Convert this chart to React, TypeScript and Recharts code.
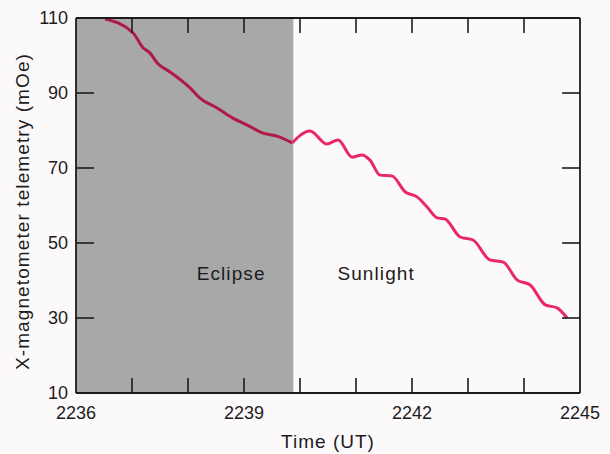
import React from 'react';
import { ComposedChart, Line, XAxis, YAxis, ReferenceArea, ReferenceDot, Label } from 'recharts';

const eclipseX = [2236.52, 2237.02, 2237.2, 2237.32, 2237.45, 2237.68, 2238.04, 2238.21, 2238.52, 2238.8, 2239.05, 2239.34, 2239.59, 2239.86];
const eclipseY = [109.7, 106.0, 102.0, 100.7, 98.0, 95.6, 91.3, 88.7, 86.0, 83.3, 81.5, 79.3, 78.5, 76.7];

const sunX = [2239.86, 2240.18, 2240.48, 2240.68, 2240.93, 2241.11, 2241.25, 2241.43, 2241.64, 2241.88, 2242.09, 2242.27, 2242.45, 2242.59, 2242.86, 2243.09, 2243.39, 2243.63, 2243.88, 2244.11, 2244.38, 2244.59, 2244.77];
const sunY = [76.7, 79.9, 76.4, 77.5, 72.9, 73.5, 72.1, 68.1, 67.9, 63.6, 62.3, 59.6, 56.7, 56.4, 51.6, 50.8, 45.5, 44.9, 40.1, 38.8, 33.5, 32.7, 30.0];

const xTicks = [2236, 2237, 2238, 2239, 2240, 2241, 2242, 2243, 2244, 2245];
const xLabeled = [2236, 2239, 2242, 2245];
const yTicks = [10, 30, 50, 70, 90, 110];
const eclipseEnd = 2239.88;

const annotations = [
  { x: 2238.77, y: 42, text: 'Eclipse' },
  { x: 2241.36, y: 42, text: 'Sunlight' },
];

const eclipseData = eclipseX.map((x, i) => ({ x, v: eclipseY[i] }));
const sunData = sunX.map((x, i) => ({ x, v: sunY[i] }));

const FONT = '"Liberation Sans", Arial, Helvetica, sans-serif';
const INK = '#1c1c1c';

const BottomTick = (props: any) => {
  const { x, y, payload } = props;
  const v = payload.value;
  const inner = v !== 2236 && v !== 2245;
  return (
    <g>
      {inner && <line x1={x} y1={y} x2={x} y2={y - 15} stroke={INK} strokeWidth={1.6} />}
      {xLabeled.includes(v) && (
        <text x={x} y={y + 26} textAnchor="middle" fontSize={18} fontFamily={FONT} fill={INK}>
          {v}
        </text>
      )}
    </g>
  );
};

const TopTick = (props: any) => {
  const { x, y, payload } = props;
  const v = payload.value;
  if (v === 2236 || v === 2245) return <g />;
  return <line x1={x} y1={y} x2={x} y2={y + 15} stroke={INK} strokeWidth={1.6} />;
};

const LeftTick = (props: any) => {
  const { x, y, payload } = props;
  const v = payload.value;
  const inner = v !== 10 && v !== 110;
  return (
    <g>
      {inner && <line x1={x} y1={y} x2={x + 18} y2={y} stroke={INK} strokeWidth={1.6} />}
      <text x={x - 8} y={y + 6} textAnchor="end" fontSize={18} fontFamily={FONT} fill={INK}>
        {v}
      </text>
    </g>
  );
};

const RightTick = (props: any) => {
  const { x, y, payload } = props;
  const v = payload.value;
  if (v === 10 || v === 110) return <g />;
  return <line x1={x} y1={y} x2={x - 18} y2={y} stroke={INK} strokeWidth={1.6} />;
};

const AnnLabel = (text: string) => (props: any) => {
  const { viewBox } = props;
  const cx = viewBox.x + (viewBox.width || 0) / 2;
  const cy = viewBox.y + (viewBox.height || 0) / 2;
  return (
    <text x={cx} y={cy + 7} textAnchor="middle" fontSize={19} fontFamily={FONT} fill={INK} letterSpacing={1.1}>
      {text}
    </text>
  );
};

const YTitle = (props: any) => {
  const { viewBox } = props;
  const cx = 22;
  const cy = viewBox.y + viewBox.height / 2 + 6;
  return (
    <text
      x={cx}
      y={cy}
      transform={`rotate(-90 ${cx} ${cy})`}
      textAnchor="middle"
      dominantBaseline="central"
      fontSize={19}
      fontFamily={FONT}
      fill={INK}
      letterSpacing={1.1}
    >
      X-magnetometer telemetry (mOe)
    </text>
  );
};

export default function App() {
  return (
    <div style={{ position: 'absolute', left: 0, top: 0, width: 610, height: 454, background: '#fcf9fb' }}>
      <ComposedChart width={610} height={454} margin={{ top: 17, right: 29, bottom: 0, left: 0 }}>
        <XAxis
          xAxisId="b"
          dataKey="x"
          type="number"
          domain={[2236, 2245]}
          ticks={xTicks}
          allowDataOverflow
          height={61}
          tickSize={0}
          tickMargin={0}
          tickLine={false}
          axisLine={{ stroke: INK, strokeWidth: 1.8 }}
          tick={<BottomTick />}
          interval={0}
        >
          <Label
            value="Time (UT)"
            position="insideBottom"
            offset={6}
            style={{ fontSize: 19, fontFamily: FONT, fill: INK, letterSpacing: 1 }}
          />
        </XAxis>
        <XAxis
          xAxisId="t"
          orientation="top"
          dataKey="x"
          type="number"
          domain={[2236, 2245]}
          ticks={xTicks}
          allowDataOverflow
          height={1}
          tickSize={0}
          tickMargin={0}
          tickLine={false}
          axisLine={{ stroke: INK, strokeWidth: 1.8 }}
          tick={<TopTick />}
          interval={0}
        />
        <YAxis
          yAxisId="l"
          type="number"
          domain={[10, 110]}
          ticks={yTicks}
          allowDataOverflow
          width={76}
          tickSize={0}
          tickMargin={0}
          tickLine={false}
          axisLine={{ stroke: INK, strokeWidth: 1.8 }}
          tick={<LeftTick />}
          interval={0}
        >
          <Label content={<YTitle />} />
        </YAxis>
        <YAxis
          yAxisId="r"
          orientation="right"
          type="number"
          domain={[10, 110]}
          ticks={yTicks}
          allowDataOverflow
          width={1}
          tickSize={0}
          tickMargin={0}
          tickLine={false}
          axisLine={{ stroke: INK, strokeWidth: 1.8 }}
          tick={<RightTick />}
          interval={0}
        />
        <ReferenceArea
          xAxisId="b"
          yAxisId="l"
          x1={2236}
          x2={eclipseEnd}
          y1={10}
          y2={110}
          fill="#a9a8a9"
          fillOpacity={1}
          stroke="none"
        />
        <Line
          xAxisId="b"
          yAxisId="l"
          data={eclipseData}
          dataKey="v"
          type="monotone"
          stroke="#b01a46"
          strokeWidth={3}
          dot={false}
          isAnimationActive={false}
        />
        <Line
          xAxisId="b"
          yAxisId="l"
          data={sunData}
          dataKey="v"
          type="monotone"
          stroke="#e8286a"
          strokeWidth={3}
          dot={false}
          isAnimationActive={false}
        />
        {annotations.map((a) => (
          <ReferenceDot
            key={a.text}
            xAxisId="b"
            yAxisId="l"
            x={a.x}
            y={a.y}
            r={0}
            fill="none"
            stroke="none"
            label={AnnLabel(a.text)}
          />
        ))}
      </ComposedChart>
    </div>
  );
}
